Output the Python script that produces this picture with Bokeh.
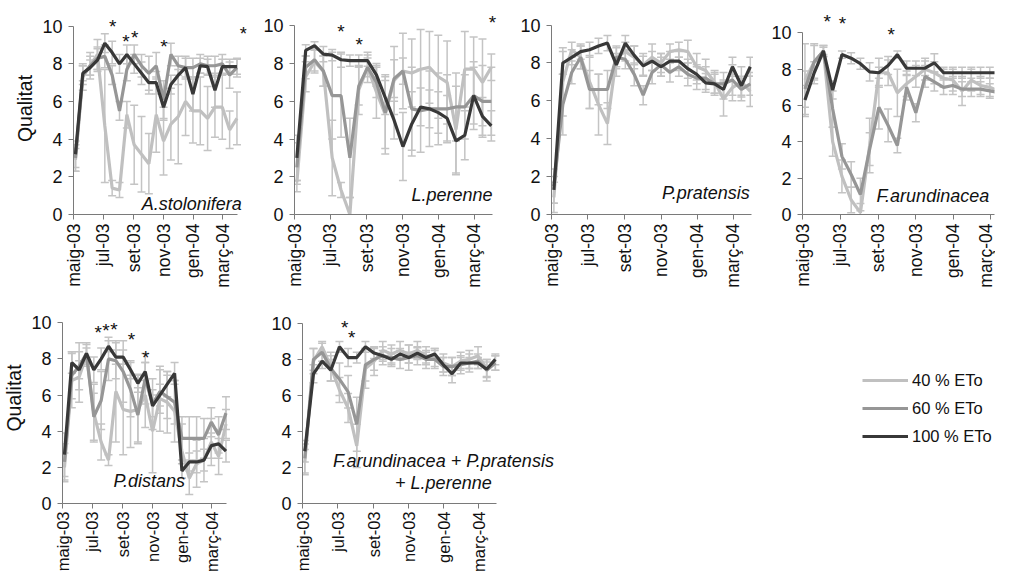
import numpy as np
import pandas as pd
from bokeh.plotting import figure
from bokeh.models import (Range1d, FixedTicker, ColumnDataSource, Whisker, TeeHead,
                          Label, Legend, LegendItem, Spacer)
from bokeh.layouts import row, column
from bokeh.embed import file_html
from bokeh.resources import INLINE

# ---------------- data ----------------
dates = ["2003-05-05", "2003-05-20", "2003-06-04", "2003-06-19", "2003-07-04", "2003-07-19",
         "2003-08-03", "2003-08-18", "2003-09-02", "2003-09-17", "2003-10-02", "2003-10-17",
         "2003-11-01", "2003-11-16", "2003-12-01", "2003-12-16", "2003-12-31", "2004-01-15",
         "2004-01-30", "2004-02-14", "2004-02-29", "2004-03-15", "2004-03-30"]
tick_dates = ["2003-05-01", "2003-07-01", "2003-09-01", "2003-11-01", "2004-01-01", "2004-03-01"]
tick_labels = ["maig-03", "jul-03", "set-03", "nov-03", "gen-04", "març-04"]
series_names = ["40 % ETo", "60 % ETo", "100 % ETo"]
y_ticks = [0, 2, 4, 6, 8, 10]

# A.stolonifera
stol_40 = [2.9, 7.3, 7.9, 8.5, 4.7, 1.4, 1.3, 5.3, 3.7, 3.2, 2.7, 5.3, 3.9, 4.8, 5.2, 6.0, 5.5, 5.5, 5.1, 5.7, 5.7, 4.5, 5.1]
stol_60 = [3.0, 7.4, 7.9, 8.3, 8.4, 7.4, 5.5, 7.7, 8.5, 7.9, 7.5, 7.9, 6.1, 8.5, 7.9, 7.8, 7.8, 8.0, 7.9, 7.9, 8.0, 7.4, 7.8]
stol_100 = [3.2, 7.5, 7.8, 8.2, 9.1, 8.6, 8.0, 8.5, 8.0, 7.5, 7.0, 7.0, 5.7, 6.9, 7.4, 7.8, 6.4, 7.9, 7.85, 6.6, 7.85, 7.85, 7.85]
stol_40_err = [0.6, 0.7, 0.7, 0.8, 3.0, 0.4, 0.4, 0.7, 2.1, 2.0, 1.6, 2.0, 1.8, 1.9, 2.5, 1.8, 1.7, 1.8, 1.7, 1.6, 1.7, 1.0, 1.4]
stol_60_err = [0.7, 0.5, 0.5, 0.6, 0.6, 0.5, 0.5, 0.6, 0.5, 0.6, 0.9, 0.7, 1.0, 0.6, 0.5, 0.6, 0.5, 0.5, 0.5, 0.5, 0.5, 0.7, 0.5]
stol_100_err = [0.7, 0.4, 0.4, 0.6, 0.5, 0.6, 0.5, 0.5, 0.5, 0.6, 0.6, 0.6, 0.7, 0.5, 0.5, 0.5, 0.9, 0.4, 0.4, 0.9, 0.4, 0.4, 0.4]
stol_star_dates = ["2003-07-20", "2003-08-16", "2003-09-03", "2003-11-02", "2004-04-12"]
stol_star_y = [10.0, 9.2, 9.4, 8.9, 9.6]

# L.perenne
lol_40 = [1.7, 7.3, 8.1, 7.6, 3.0, 1.3, 0.0, 6.6, 7.8, 6.5, 5.3, 7.1, 7.6, 7.5, 7.7, 7.8, 7.3, 7.0, 4.5, 7.7, 7.7, 7.0, 7.8]
lol_60 = [2.5, 7.8, 8.2, 7.6, 6.3, 6.3, 3.0, 6.8, 7.8, 7.0, 5.4, 7.2, 7.6, 5.6, 5.5, 5.6, 5.6, 5.6, 5.7, 5.7, 6.3, 6.0, 6.0]
lol_100 = [3.0, 8.7, 8.95, 8.5, 8.45, 8.2, 8.15, 8.15, 8.15, 7.4, 6.2, 5.0, 3.6, 4.8, 5.7, 5.6, 5.4, 5.1, 3.9, 4.2, 6.3, 5.2, 4.7]
lol_40_err = [0.1, 0.8, 0.6, 0.8, 2.0, 0.4, 0.9, 1.3, 0.8, 1.4, 2.1, 1.8, 2.0, 1.8, 2.1, 1.9, 2.2, 2.2, 2.3, 2.0, 1.7, 2.3, 0.7]
lol_60_err = [1.3, 0.6, 0.6, 0.8, 2.3, 2.2, 2.1, 1.0, 0.5, 0.8, 1.9, 1.0, 0.7, 2.2, 2.2, 2.0, 1.9, 1.8, 1.8, 1.7, 1.8, 1.9, 1.8]
lol_100_err = [1.2, 0.3, 0.2, 0.4, 0.3, 0.4, 0.3, 0.3, 0.3, 0.6, 0.9, 1.0, 1.8, 1.7, 1.0, 1.0, 1.1, 1.2, 1.8, 1.3, 1.5, 1.0, 0.8]
lol_star_dates = ["2003-07-19", "2003-08-19", "2004-04-01"]
lol_star_y = [9.7, 9.0, 10.2]

# P.pratensis
poa_40 = [0.9, 7.0, 8.7, 8.3, 7.0, 5.8, 4.8, 8.3, 8.6, 8.3, 7.9, 8.3, 8.0, 8.6, 8.7, 8.6, 7.8, 7.6, 7.0, 6.1, 6.7, 7.0, 6.5]
poa_60 = [1.5, 5.8, 7.5, 8.3, 6.6, 6.6, 6.6, 8.3, 8.2, 7.4, 6.3, 7.5, 7.9, 7.5, 7.8, 7.4, 7.2, 7.2, 6.9, 6.9, 7.1, 6.6, 6.9]
poa_100 = [1.3, 8.0, 8.3, 8.6, 8.7, 8.9, 9.05, 7.9, 9.05, 8.4, 7.85, 8.1, 7.8, 8.1, 8.1, 7.7, 7.4, 6.95, 6.9, 6.6, 7.8, 6.8, 7.8]
poa_40_err = [0.8, 1.8, 0.4, 0.6, 1.4, 1.6, 1.1, 0.5, 0.5, 0.6, 0.6, 0.7, 0.5, 0.4, 0.4, 0.6, 0.7, 0.6, 0.6, 0.9, 0.7, 0.8, 0.8]
poa_60_err = [0.9, 1.6, 0.6, 0.6, 1.0, 0.8, 1.0, 0.6, 0.5, 0.6, 0.5, 0.6, 0.6, 0.5, 0.5, 0.6, 0.6, 0.6, 0.6, 0.6, 0.8, 0.6, 0.6]
poa_100_err = [0.7, 0.6, 0.4, 0.4, 0.4, 0.4, 0.4, 0.6, 0.4, 0.5, 0.5, 0.5, 0.5, 0.5, 0.5, 0.5, 0.5, 0.5, 0.5, 0.5, 0.5, 0.5, 0.5]
poa_star_dates = []
poa_star_y = []

# F.arundinacea
fest_40 = [7.4, 8.4, 9.0, 4.0, 2.1, 0.8, 0.1, 3.8, 7.8, 7.8, 6.7, 7.2, 7.6, 8.0, 7.8, 7.5, 7.4, 6.8, 7.4, 7.1, 7.0, 6.8, 6.8]
fest_60 = [6.9, 8.4, 9.0, 5.8, 3.2, 2.2, 1.1, 3.6, 5.9, 4.9, 3.8, 7.0, 5.6, 7.6, 7.3, 7.0, 7.1, 6.9, 6.9, 6.9, 6.8, 6.7, 6.6]
fest_100 = [6.3, 7.8, 9.0, 6.85, 8.8, 8.6, 8.3, 7.85, 7.8, 8.2, 8.8, 8.05, 8.05, 8.05, 8.35, 7.8, 7.8, 7.8, 7.8, 7.8, 7.8, 7.8, 8.3]
fest_40_err = [2.0, 1.0, 0.3, 0.8, 0.9, 0.7, 0.5, 1.5, 0.8, 0.7, 1.3, 0.7, 0.6, 0.6, 0.6, 0.5, 0.6, 0.8, 0.6, 0.5, 0.5, 0.5, 0.5]
fest_60_err = [1.0, 0.9, 0.3, 1.0, 0.7, 0.7, 0.9, 0.9, 1.2, 0.9, 0.4, 0.7, 0.5, 0.6, 0.5, 0.4, 0.5, 0.4, 0.4, 0.4, 0.4, 0.4, 0.4]
fest_100_err = [0.8, 0.6, 0.2, 0.5, 0.2, 0.3, 0.3, 0.5, 0.3, 0.5, 0.2, 0.4, 0.4, 0.4, 0.5, 0.3, 0.3, 0.3, 0.3, 0.3, 0.3, 0.3, 0.3]
fest_star_dates = ["2003-06-10", "2003-07-05", "2003-09-22"]
fest_star_y = [10.6, 10.5, 9.9]

# P.distans
pucc_40 = [2.0, 6.8, 7.0, 8.2, 5.0, 3.4, 2.4, 6.2, 5.2, 5.1, 5.2, 6.0, 4.0, 5.8, 5.6, 5.1, 2.9, 1.4, 2.2, 2.4, 3.4, 2.6, 4.4]
pucc_60 = [2.3, 7.1, 7.6, 8.3, 4.8, 5.7, 8.0, 7.9, 7.3, 6.3, 4.9, 6.9, 5.5, 6.2, 5.9, 5.6, 3.6, 3.6, 3.6, 3.6, 4.5, 3.8, 5.0]
pucc_100 = [2.7, 7.8, 7.4, 8.3, 7.4, 8.0, 8.7, 8.1, 8.1, 7.4, 6.65, 7.3, 5.4, 6.0, 6.6, 7.2, 1.8, 2.3, 2.3, 2.4, 3.2, 3.3, 2.9]
pucc_40_err = [0.8, 1.5, 1.4, 0.6, 1.6, 1.0, 0.3, 2.8, 2.5, 2.0, 1.9, 1.8, 2.3, 1.8, 1.7, 1.7, 1.5, 0.9, 1.3, 1.2, 1.3, 1.0, 0.8]
pucc_60_err = [1.0, 1.3, 1.3, 0.6, 1.3, 1.6, 1.2, 1.0, 1.7, 1.5, 1.5, 1.4, 1.4, 1.2, 1.2, 1.2, 1.2, 1.2, 1.2, 1.1, 0.8, 1.0, 0.9]
pucc_100_err = [1.2, 0.6, 0.5, 0.3, 0.7, 0.6, 0.3, 0.4, 0.4, 0.5, 0.5, 0.5, 0.6, 0.6, 0.7, 0.6, 0.4, 0.5, 0.6, 0.6, 0.7, 0.8, 0.6]
pucc_star_dates = ["2003-07-13", "2003-07-29", "2003-08-14", "2003-09-19", "2003-10-18"]
pucc_star_y = [9.45, 9.55, 9.63, 9.1, 8.1]

# F.arundinacea + P.pratensis + L.perenne
mix_40 = [2.3, 7.9, 8.7, 7.6, 6.3, 5.3, 3.2, 7.5, 7.9, 8.5, 8.3, 8.5, 8.3, 8.5, 8.2, 8.1, 7.8, 7.6, 7.9, 8.0, 8.2, 7.5, 7.8]
mix_60 = [2.5, 8.0, 8.4, 7.5, 6.9, 6.2, 4.4, 7.7, 8.0, 8.2, 8.1, 8.0, 8.1, 8.2, 8.0, 8.0, 7.6, 7.6, 7.7, 7.8, 7.9, 7.4, 7.8]
mix_100 = [2.9, 7.2, 7.9, 7.4, 8.7, 8.1, 8.1, 8.7, 8.35, 8.2, 8.0, 8.3, 8.1, 8.35, 8.1, 8.3, 7.7, 7.2, 7.8, 7.8, 7.8, 7.45, 8.0]
mix_40_err = [0.7, 0.7, 0.3, 0.8, 0.7, 0.8, 1.2, 1.1, 0.8, 0.5, 0.5, 0.5, 0.5, 0.5, 0.5, 0.5, 0.5, 0.5, 0.5, 0.5, 0.5, 0.5, 0.4]
mix_60_err = [0.8, 0.6, 0.5, 0.7, 0.9, 0.9, 1.5, 0.9, 0.6, 0.5, 0.5, 0.5, 0.7, 0.5, 0.5, 0.5, 0.5, 0.5, 0.5, 0.5, 0.4, 0.6, 0.4]
mix_100_err = [0.6, 0.5, 0.4, 0.6, 0.3, 0.5, 0.3, 0.3, 0.3, 0.3, 0.3, 0.3, 0.3, 0.3, 0.3, 0.3, 0.4, 0.5, 0.3, 0.3, 0.3, 0.4, 0.3]
mix_star_dates = ["2003-07-13", "2003-07-25"]
mix_star_y = [9.76, 9.2]

# ---------------- style ----------------
FONT = "Liberation Sans"
COLORS = ["#C0C0C0", "#969696", "#383838"]
ERR_COLOR = "#C4C4C4"
AXIS_COLOR = "#7a7a7a"
TEXT_COLOR = "#111111"
ORIGIN = pd.Timestamp("2003-05-01")


def day(s):
    return (pd.Timestamp(s) - ORIGIN).days


x_days = [day(d) for d in dates]
tick_days = [day(d) for d in tick_dates]


def make_panel(geo, xend, series, errs, star_dates, star_y, labels, ylabel=False,
               xfont="17.5px", xstandoff=4):
    # geo: page pixel geometry (figure box, axis extents, frame extents)
    fl, fr, ft, fb = geo["fig"]
    axl, axr, y10 = geo["axis"]
    frr, frt, frb = geo["frame"]
    width, height = fr - fl, fb - ft
    mbl = axl - fl
    frame_w = frr - axl
    mbr = width - mbl - frame_w
    mbt = frt - ft
    frame_h = frb - frt
    mbb = height - mbt - frame_h
    x_end = day(xend) * frame_w / (axr - axl)
    y_end = 10 * frame_h / (frb - y10)
    p = figure(width=width, height=height, output_backend="svg", toolbar_location=None,
               x_range=Range1d(0, x_end), y_range=Range1d(0, y_end),
               min_border_left=mbl, min_border_right=mbr, min_border_top=mbt,
               min_border_bottom=mbb, background_fill_color="white",
               border_fill_color="white", outline_line_color=None)
    p.xgrid.visible = False
    p.ygrid.visible = False
    p.xaxis.ticker = FixedTicker(ticks=tick_days)
    p.xaxis.major_label_overrides = {d: l for d, l in zip(tick_days, tick_labels)}
    p.xaxis.major_label_orientation = np.pi / 2
    p.xaxis.bounds = (0, day(xend))
    p.yaxis.ticker = FixedTicker(ticks=y_ticks)
    p.yaxis.bounds = (0, 10)
    for ax in (p.xaxis[0], p.yaxis[0]):
        ax.axis_line_color = AXIS_COLOR
        ax.major_tick_line_color = AXIS_COLOR
        ax.minor_tick_line_color = None
        ax.major_tick_out = 5
        ax.major_tick_in = 0
        ax.major_label_text_font = FONT
        ax.major_label_text_color = TEXT_COLOR
    p.xaxis.major_label_text_font_size = xfont
    p.yaxis.major_label_text_font_size = "18px"
    p.yaxis.major_label_standoff = 6
    p.xaxis.major_label_standoff = xstandoff
    if ylabel:
        p.yaxis.axis_label = "Qualitat"
        p.yaxis.axis_label_text_font = FONT
        p.yaxis.axis_label_text_font_size = "19.5px"
        p.yaxis.axis_label_text_font_style = "normal"
        p.yaxis.axis_label_text_color = TEXT_COLOR
        p.yaxis.axis_label_standoff = 3
    for vals, err in zip(series, errs):
        v = np.array(vals)
        e = np.array(err)
        src = ColumnDataSource(dict(x=x_days, upper=v + e, lower=v - e))
        p.add_layout(Whisker(base="x", upper="upper", lower="lower", source=src,
                             line_color=ERR_COLOR, line_width=1.5,
                             upper_head=TeeHead(size=8, line_color=ERR_COLOR, line_width=1.5),
                             lower_head=TeeHead(size=8, line_color=ERR_COLOR, line_width=1.5)))
    renderers = []
    for vals, col in zip(series, COLORS):
        renderers.append(p.line(x=x_days, y=vals, line_color=col, line_width=3.2))
    for sd, sy in zip(star_dates, star_y):
        p.add_layout(Label(x=day(sd), y=sy, text="*", text_align="center",
                           text_baseline="middle", text_font=FONT,
                           text_font_size="19px", text_color=TEXT_COLOR))
    for (ld, ly, txt, align) in labels:
        p.add_layout(Label(x=day(ld), y=ly, text=txt, text_align=align,
                           text_baseline="alphabetic", text_font=FONT,
                           text_font_style="italic", text_font_size="18px",
                           text_color=TEXT_COLOR))
    return p, renderers


# page geometry (pixels): row 1 figures 8..298, row 2 298..583
R1 = dict(top=8, bottom=298, ftop=10, fbot=222)
R2 = dict(top=298, bottom=583, ftop=300, fbot=514)

p1, _ = make_panel(dict(fig=(19, 255, R1["top"], R1["bottom"]), axis=(72, 245, 33.7),
                        frame=(254, R1["ftop"], R1["fbot"])), "2004-04-01",
                   (stol_40, stol_60, stol_100), (stol_40_err, stol_60_err, stol_100_err),
                   stol_star_dates, stol_star_y,
                   [("2004-04-09", 0.58, "A.stolonifera", "right")], ylabel=True)
p2, _ = make_panel(dict(fig=(255, 505, R1["top"], R1["bottom"]), axis=(302, 500, 33.3),
                        frame=(505, R1["ftop"], R1["fbot"])), "2004-04-01",
                   (lol_40, lol_60, lol_100), (lol_40_err, lol_60_err, lol_100_err),
                   lol_star_dates, lol_star_y,
                   [("2004-04-01", 1.02, "L.perenne", "right")])
p3, _ = make_panel(dict(fig=(505, 761, R1["top"], R1["bottom"]), axis=(559, 759, 32.6),
                        frame=(761, R1["ftop"], R1["fbot"])), "2004-04-01",
                   (poa_40, poa_60, poa_100), (poa_40_err, poa_60_err, poa_100_err),
                   poa_star_dates, poa_star_y,
                   [("2004-03-29", 1.15, "P.pratensis", "right")])
p4, _ = make_panel(dict(fig=(761, 1003, R1["top"], R1["bottom"]), axis=(810, 1017, 40.3),
                        frame=(1002, R1["ftop"], R1["fbot"])), "2004-04-01",
                   (fest_40, fest_60, fest_100), (fest_40_err, fest_60_err, fest_100_err),
                   fest_star_dates, fest_star_y,
                   [("2003-08-29", 1.0, "F.arundinacea", "left")])
p5, _ = make_panel(dict(fig=(8, 247, R2["top"], R2["bottom"]), axis=(63, 234, 330.7),
                        frame=(246, R2["ftop"], R2["fbot"])), "2004-04-01",
                   (pucc_40, pucc_60, pucc_100), (pucc_40_err, pucc_60_err, pucc_100_err),
                   pucc_star_dates, pucc_star_y,
                   [("2003-08-13", 1.27, "P.distans", "left")], ylabel=True,
                   xfont="16.5px", xstandoff=3)
p6, r6 = make_panel(dict(fig=(247, 1003, R2["top"], R2["bottom"]), axis=(310, 504, 331.3),
                         frame=(1002, R2["ftop"], R2["fbot"])), "2004-04-01",
                    (mix_40, mix_60, mix_100), (mix_40_err, mix_60_err, mix_100_err),
                    mix_star_dates, mix_star_y,
                    [("2003-12-31", 2.35, "F.arundinacea + P.pratensis", "center"),
                     ("2003-12-31", 1.15, "+ L.perenne", "center")],
                    xfont="16.5px", xstandoff=3)

legend = Legend(items=[LegendItem(label=n, renderers=[r]) for n, r in zip(series_names, r6)],
                location=(560, 57), glyph_width=46, glyph_height=20, label_height=20,
                spacing=8, label_standoff=4, padding=0, margin=0,
                border_line_alpha=0, background_fill_alpha=0,
                label_text_font=FONT, label_text_font_size="16.5px",
                label_text_color=TEXT_COLOR)
p6.add_layout(legend)

layout = column(row(Spacer(width=11, height=290), p1, p2, p3, p4), row(p5, p6))

open("out.html", "w").write(file_html(layout, INLINE))
